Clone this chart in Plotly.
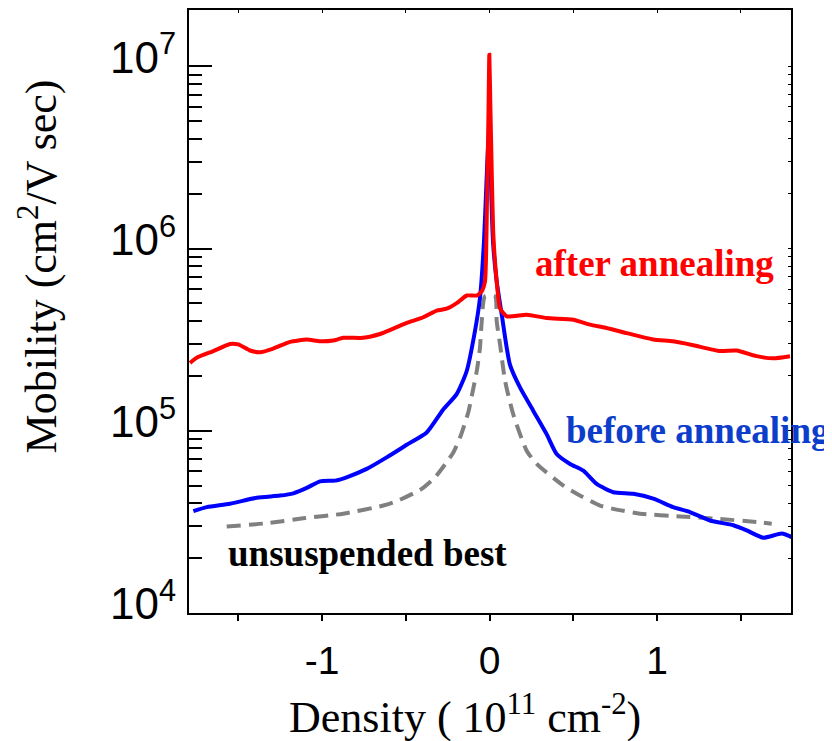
import plotly.graph_objects as go

# ---- data ----
after_x = [-1.788, -1.748, -1.649, -1.549, -1.500, -1.430, -1.370, -1.291, -1.191, -1.091, -1.012,
           -0.933, -0.873, -0.753, -0.654, -0.574, -0.494, -0.395, -0.315, -0.256, -0.196, -0.136,
           -0.076, -0.047, -0.027, -0.015, -0.006, -0.001, 0.006, 0.013, 0.023, 0.043, 0.063, 0.103,
           0.222, 0.341, 0.500, 0.600, 0.699, 0.819, 0.978, 1.097, 1.217, 1.376, 1.476, 1.595,
           1.694, 1.794]
after_y = [2.36e5, 2.52e5, 2.74e5, 3.00e5, 2.98e5, 2.76e5, 2.70e5, 2.83e5, 3.08e5, 3.17e5, 3.10e5,
           3.13e5, 3.24e5, 3.24e5, 3.40e5, 3.64e5, 3.91e5, 4.20e5, 4.57e5, 4.68e5, 5.02e5, 5.53e5,
           5.53e5, 5.82e5, 6.6e5, 1.81e6, 5.6e6, 1.16e7, 5.6e6, 2.73e6, 1.19e6, 6.6e5, 4.70e5, 4.25e5,
           4.34e5, 4.16e5, 4.07e5, 3.83e5, 3.67e5, 3.44e5, 3.17e5, 3.10e5, 2.95e5, 2.74e5, 2.76e5,
           2.57e5, 2.50e5, 2.57e5]

before_x = [-1.768, -1.688, -1.549, -1.390, -1.251, -1.171, -1.091, -1.012, -0.922, -0.853, -0.733,
            -0.614, -0.494, -0.375, -0.276, -0.196, -0.136, -0.087, -0.057, -0.033, -0.018, -0.005,
            0.004, 0.012, 0.021, 0.043, 0.073, 0.122, 0.182, 0.261, 0.341, 0.401, 0.481, 0.560,
            0.640, 0.739, 0.859, 0.978, 1.097, 1.197, 1.316, 1.456, 1.536, 1.635, 1.745, 1.804]
before_y = [3.62e4, 3.81e4, 3.98e4, 4.29e4, 4.41e4, 4.54e4, 4.86e4, 5.28e4, 5.33e4, 5.56e4, 6.18e4,
            7.15e4, 8.38e4, 9.79e4, 1.31e5, 1.59e5, 2.13e5, 3.52e5, 5.35e5, 1.09e6, 2.32e6, 3.99e6,
            3.39e6, 1.81e6, 1.09e6, 6.6e5, 4.35e5, 2.31e5, 1.73e5, 1.29e5, 9.59e4, 7.46e4, 6.58e4,
            6.04e4, 5.11e4, 4.60e4, 4.51e4, 4.24e4, 3.81e4, 3.58e4, 3.22e4, 3.03e4, 2.84e4, 2.59e4,
            2.73e4, 2.61e4]

best_x = [-1.569, -1.330, -1.101, -0.873, -0.634, -0.554, -0.405, -0.325, -0.216, -0.176, -0.127,
          -0.106, -0.076, -0.057, -0.047, -0.027, 0.033, 0.043, 0.063, 0.093, 0.142, 0.222, 0.282,
          0.441, 0.521, 0.660, 0.739, 0.899, 1.137, 1.356, 1.595, 1.685]
best_y = [2.98e4, 3.11e4, 3.32e4, 3.51e4, 3.89e4, 4.11e4, 4.80e4, 5.56e4, 7.61e4, 9.18e4, 1.26e5,
          1.55e5, 2.13e5, 2.85e5, 3.91e5, 5.47e5, 5.47e5, 3.99e5, 2.98e5, 1.88e5, 1.23e5, 7.78e4,
          6.58e4, 5.00e4, 4.51e4, 3.89e4, 3.73e4, 3.51e4, 3.39e4, 3.29e4, 3.16e4, 3.09e4]

x_tickvals = [-1, 0, 1]
x_ticktext = ["-1", "0", "1"]
x_minor = [-1.5, -0.5, 0.5, 1.5]
y_tickvals = [1e4, 1e5, 1e6, 1e7]
y_ticktext = ["10<sup>4</sup>", "10<sup>5</sup>", "10<sup>6</sup>", "10<sup>7</sup>"]
y_minor = [k * 10 ** d for d in (4, 5, 6) for k in range(2, 10)]

X_RANGE = [-1.794, 1.80]
Y_RANGE = [4, 7.31]

fig = go.Figure()
fig.add_trace(go.Scatter(x=best_x, y=best_y, mode="lines",
                         line=dict(color="#808080", width=4, dash="14px,8px",
                                   shape="spline", smoothing=0.6), showlegend=False))
fig.add_trace(go.Scatter(x=before_x, y=before_y, mode="lines",
                         line=dict(color="#0000ff", width=4, shape="spline", smoothing=0.6),
                         showlegend=False))
fig.add_trace(go.Scatter(x=after_x, y=after_y, mode="lines",
                         line=dict(color="#ff0000", width=4, shape="spline", smoothing=0.5),
                         showlegend=False))
# invisible trace to anchor the mirror (top/right) tick axes
fig.add_trace(go.Scatter(x=[0], y=[1e5], xaxis="x2", yaxis="y2", mode="markers",
                         marker=dict(opacity=0), showlegend=False, hoverinfo="skip"))

sans = "Liberation Sans, Arial, sans-serif"

# the page body has an 8px margin, so the figure is drawn 8px in from the top-left
fig.update_layout(
    width=824, height=733, autosize=False,
    margin=dict(l=181, r=41, t=0, b=128),
    paper_bgcolor="white", plot_bgcolor="white",
    xaxis=dict(range=X_RANGE, showgrid=False, zeroline=False,
               showline=True, linecolor="black", linewidth=2, mirror=True,
               tickmode="array", tickvals=x_tickvals, ticktext=x_ticktext,
               ticks="outside", ticklen=6, tickwidth=2, tickcolor="black",
               ticklabelstandoff=6,
               minor=dict(tickvals=x_minor, ticks="outside", ticklen=6,
                          tickwidth=2, tickcolor="black", showgrid=False),
               tickfont=dict(family=sans, size=39, color="black")),
    yaxis=dict(type="log", range=Y_RANGE, showgrid=False, zeroline=False,
               showline=True, linecolor="black", linewidth=2, mirror=True,
               tickmode="array", tickvals=y_tickvals, ticktext=y_ticktext,
               ticks="inside", ticklen=23, tickwidth=2, tickcolor="black",
               ticklabelshift=-9, ticklabelstandoff=2,
               minor=dict(tickvals=y_minor, ticks="inside", ticklen=13,
                          tickwidth=2, tickcolor="black", showgrid=False),
               tickfont=dict(family=sans, size=44, color="black")),
    xaxis2=dict(range=X_RANGE, overlaying="x", side="top", anchor="y2",
                showgrid=False, zeroline=False, showline=False,
                tickmode="array", tickvals=x_tickvals, showticklabels=False,
                ticks="inside", ticklen=3, tickwidth=1, tickcolor="black",
                minor=dict(tickvals=x_minor, ticks="inside", ticklen=3,
                           tickwidth=1, tickcolor="black", showgrid=False)),
    yaxis2=dict(type="log", range=Y_RANGE, overlaying="y", side="right", anchor="x2",
                showgrid=False, zeroline=False, showline=False,
                tickmode="array", tickvals=y_tickvals, showticklabels=False,
                ticks="inside", ticklen=3, tickwidth=1, tickcolor="black",
                minor=dict(tickvals=y_minor, ticks="inside", ticklen=3,
                           tickwidth=1, tickcolor="black", showgrid=False)),
)

serif = "Liberation Serif, Times New Roman, serif"
fig.add_annotation(text="Density ( 10<sup>11</sup> cm<sup>-2</sup>)", xref="paper", yref="paper",
                   x=0.4585, y=-0.168, xanchor="center", yanchor="middle", showarrow=False,
                   font=dict(family=serif, size=44, color="black"))
fig.add_annotation(text="Mobility (cm<sup>2</sup>/V sec)", xref="paper", yref="paper",
                   x=-0.25, y=0.574, xanchor="center", yanchor="middle", showarrow=False,
                   textangle=-90, font=dict(family=serif, size=44, color="black"))
fig.add_annotation(text="<b>after annealing</b>", xref="paper", yref="paper",
                   x=0.774, y=0.579, xanchor="center", yanchor="middle", showarrow=False,
                   font=dict(family=serif, size=37, color="#ff0000"))
fig.add_annotation(text="<b>before annealing</b>", xref="paper", yref="paper",
                   x=0.846, y=0.302, xanchor="center", yanchor="middle", showarrow=False,
                   font=dict(family=serif, size=37, color="#0d3ecb"))
fig.add_annotation(text="<b>unsuspended best</b>", xref="paper", yref="paper",
                   x=0.297, y=0.099, xanchor="center", yanchor="middle", showarrow=False,
                   font=dict(family=serif, size=37, color="black"))

fig.write_html("out.html")
